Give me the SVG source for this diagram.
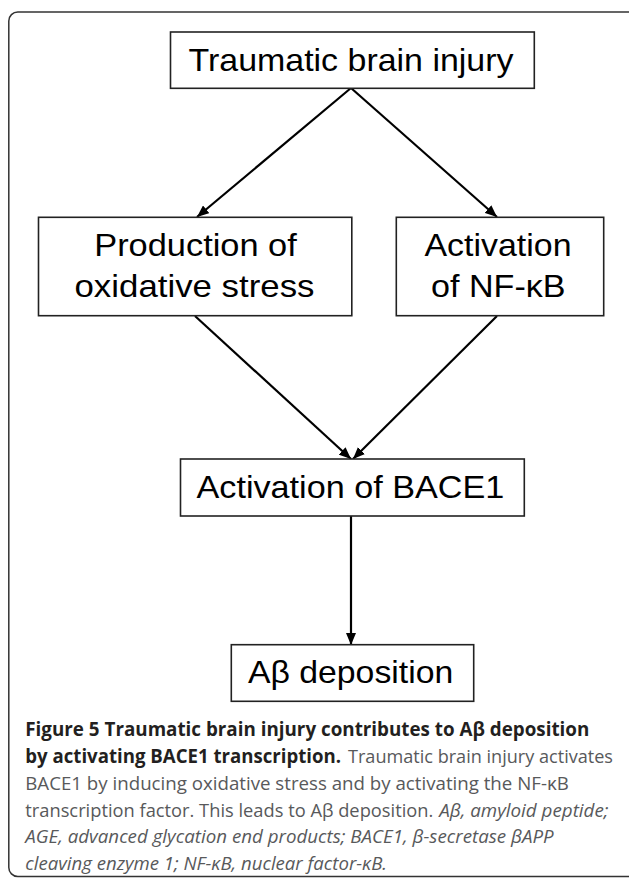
<svg xmlns="http://www.w3.org/2000/svg" width="629" height="881" viewBox="0 0 629 881">
<defs>
<marker id="ah" markerUnits="userSpaceOnUse" markerWidth="12" markerHeight="10" refX="12" refY="5" orient="auto">
<path d="M0,0 L12,5 L0,10 z" fill="#000"/>
</marker>
<style>
.box{fill:#fff;stroke:#222;stroke-width:1.6}
.lbl{font-family:"Liberation Sans",Arial,sans-serif;font-size:32px;fill:#000;text-anchor:middle}
.conn{stroke:#000;stroke-width:2.2;fill:none;marker-end:url(#ah)}
.cap{font-family:"Open Sans","Noto Sans","Liberation Sans",sans-serif;font-size:19px}
.b{font-weight:bold;fill:#231f20}
.r{fill:#58595b}
.i{fill:#58595b;font-style:italic}
</style>
</defs>
<rect x="8.8" y="12" width="640" height="864.5" rx="9" fill="#fff" stroke="#333" stroke-width="1.5"/>
<g id="connectors">
<line class="conn" x1="351" y1="88" x2="197" y2="217"/>
<line class="conn" x1="351" y1="88" x2="497" y2="217"/>
<line class="conn" x1="195" y1="316" x2="351" y2="459"/>
<line class="conn" x1="497" y1="316" x2="353" y2="459"/>
<line class="conn" x1="351" y1="516" x2="351" y2="645"/>
</g>
<g id="tbi">
<rect class="box" x="170.5" y="32" width="363.8" height="56.3"/>
<text class="lbl" x="351" y="71" textLength="325" lengthAdjust="spacingAndGlyphs">Traumatic brain injury</text>
</g>
<g id="oxidative">
<rect class="box" x="38.5" y="217.3" width="313.3" height="98.4"/>
<text class="lbl" x="195.5" y="256" textLength="202.5" lengthAdjust="spacingAndGlyphs">Production of</text>
<text class="lbl" x="194.5" y="297" textLength="240" lengthAdjust="spacingAndGlyphs">oxidative stress</text>
</g>
<g id="nfkb">
<rect class="box" x="396.3" y="217.3" width="207.4" height="98.4"/>
<text class="lbl" x="498" y="256" textLength="147" lengthAdjust="spacingAndGlyphs">Activation</text>
<text class="lbl" x="498.3" y="297" textLength="134.5" lengthAdjust="spacingAndGlyphs">of NF-κB</text>
</g>
<g id="bace1">
<rect class="box" x="180.5" y="459" width="343.8" height="57"/>
<text class="lbl" x="350.4" y="498.3" textLength="307.7" lengthAdjust="spacingAndGlyphs">Activation of BACE1</text>
</g>
<g id="abeta">
<rect class="box" x="231.3" y="644.7" width="242.4" height="56.6"/>
<text class="lbl" x="350.6" y="683.3" textLength="205.4" lengthAdjust="spacingAndGlyphs">Aβ deposition</text>
</g>
<g id="caption" class="cap">
<text class="b" x="25.3" y="735.7" textLength="564" lengthAdjust="spacingAndGlyphs">Figure 5 Traumatic brain injury contributes to Aβ deposition</text>
<text class="b" x="25.3" y="763.3" textLength="315.7" lengthAdjust="spacingAndGlyphs">by activating BACE1 transcription.</text>
<text class="r" x="348" y="763.3" textLength="265" lengthAdjust="spacingAndGlyphs">Traumatic brain injury activates</text>
<text class="r" x="25.3" y="790" textLength="543.5" lengthAdjust="spacingAndGlyphs">BACE1 by inducing oxidative stress and by activating the NF-κB</text>
<text class="r" x="25.3" y="816.7" textLength="408" lengthAdjust="spacingAndGlyphs">transcription factor. This leads to Aβ deposition.</text>
<text class="i" x="439.2" y="816.7" textLength="169.3" lengthAdjust="spacingAndGlyphs">Aβ, amyloid peptide;</text>
<text class="i" x="25.3" y="843.3" textLength="528.3" lengthAdjust="spacingAndGlyphs">AGE, advanced glycation end products; BACE1, β-secretase βAPP</text>
<text class="i" x="25.3" y="870" textLength="361.7" lengthAdjust="spacingAndGlyphs">cleaving enzyme 1; NF-κB, nuclear factor-κB.</text>
</g>
</svg>
